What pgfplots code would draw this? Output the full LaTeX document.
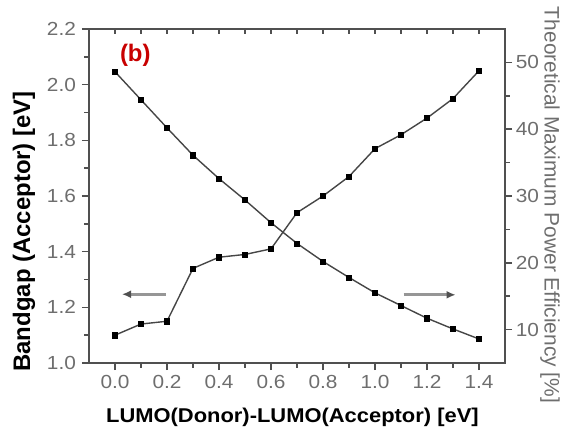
\documentclass[border=0pt]{standalone}
\usepackage{fontspec}
\setmainfont{Liberation Sans}
\usepackage{pgfplots}
\pgfplotsset{compat=1.18}
\usetikzlibrary{arrows.meta}

\definecolor{axgray}{RGB}{80,80,80}
\definecolor{tickgray}{RGB}{110,110,110}
\definecolor{curve}{RGB}{70,70,70}
\definecolor{arrgray}{RGB}{150,150,150}
\definecolor{bred}{RGB}{200,0,0}

\tikzset{tk/.style={draw=axgray, line width=1.4bp}}

\pgfplotsset{
  base/.style={
    scale only axis, width=416bp, height=334bp,
    at={(0,0)}, anchor=south west,
    xmin=-0.1, xmax=1.5,
    axis line style={axgray, line width=1.6bp},
    tick style={axgray, line width=1.5bp},
    major tick length=7bp, minor tick length=4.5bp,
    tick label style={font=\fontsize{19}{19}\selectfont, text=tickgray, xscale=1.1},
    xtick={0,0.2,0.4,0.6,0.8,1.0,1.2,1.4}, minor x tick num=1,
    /pgf/number format/assume math mode=true,
  },
  ser/.style={curve, line width=1.4bp, mark=square*, mark size=2.6bp,
    mark options={fill=black, draw=black, line width=0.5bp}},
}

\begin{document}
\begin{tikzpicture}
\useasboundingbox (-89bp,-65bp) rectangle (474bp,363bp);

% left axis: bandgap
\begin{axis}[base,
  xtick pos=bottom, ytick pos=left, tick align=outside,
  ymin=1.0, ymax=2.2,
  ytick={1.0,1.2,1.4,1.6,1.8,2.0,2.2}, minor y tick num=1,
  x tick label style={/pgf/number format/fixed, /pgf/number format/fixed zerofill, /pgf/number format/precision=1, yshift=-2bp},
  y tick label style={/pgf/number format/fixed, /pgf/number format/fixed zerofill, /pgf/number format/precision=1, xshift=-2bp},
  xlabel={LUMO(Donor)-LUMO(Acceptor) [eV]},
  xlabel style={at={(axis description cs:0.489,-0.163)}, anchor=center, xscale=1.1, font=\fontsize{20}{20}\selectfont\bfseries},
  ylabel={Bandgap (Acceptor) [eV]},
  ylabel style={at={(axis description cs:-0.156,0.394)}, anchor=center, rotate=0, font=\fontsize{24}{24}\selectfont\bfseries},
  clip=false,
]
\addplot[ser] coordinates {
  (0.0,1.10) (0.1,1.14) (0.2,1.15) (0.3,1.34) (0.4,1.38) (0.5,1.39) (0.6,1.41)
  (0.7,1.54) (0.8,1.60) (0.9,1.67) (1.0,1.77) (1.1,1.82) (1.2,1.88) (1.3,1.95) (1.4,2.05)
};
% tick marks (axis furniture)
\pgfplotsinvokeforeach{0,0.2,0.4,0.6,0.8,1.0,1.2,1.4}{
  \draw[tk] (axis cs:#1,1.0) -- ++(0bp,-7bp);
}
\pgfplotsinvokeforeach{0.1,0.3,0.5,0.7,0.9,1.1,1.3}{
  \draw[tk] (axis cs:#1,1.0) -- ++(0bp,-4.5bp);
}
\pgfplotsinvokeforeach{0,0.1,0.2,0.3,0.4,0.5,0.6,0.7,0.8,0.9,1.0,1.1,1.2,1.3,1.4}{
  \draw[tk] (axis cs:#1,2.2) -- ++(0bp,-5bp);
}
\pgfplotsinvokeforeach{1.0,1.2,1.4,1.6,1.8,2.0,2.2}{
  \draw[tk] (axis cs:-0.1,#1) -- ++(-7bp,0bp);
}
\pgfplotsinvokeforeach{1.1,1.3,1.5,1.7,1.9,2.1}{
  \draw[tk] (axis cs:-0.1,#1) -- ++(-4.5bp,0bp);
}
\draw[arrgray, line width=3bp, -{Latex[length=9bp, width=8bp, color=axgray]}]
  (axis cs:0.196,1.247) -- (axis cs:0.027,1.247);
\draw[arrgray, line width=3bp, -{Latex[length=9bp, width=8bp, color=axgray]}]
  (axis cs:1.110,1.245) -- (axis cs:1.310,1.245);
\node[text=bred, font=\fontsize{24}{24}\selectfont\bfseries] at (axis cs:0.078,2.107) {(b)};
\end{axis}

% right axis: efficiency
\begin{axis}[base,
  hide x axis, ytick pos=right, tick align=outside,
  ymin=5, ymax=55,
  ytick={10,20,30,40,50}, minor y tick num=1,
  yticklabel pos=right,
  ylabel={Theoretical Maximum Power Efficiency [\%]},
  ylabel style={at={(axis description cs:1.108,0.473)}, anchor=center, rotate=180, text=tickgray, font=\fontsize{21}{21}\selectfont},
  clip=false,
]
\addplot[ser] coordinates {
  (0.0,48.6) (0.1,44.4) (0.2,40.2) (0.3,36.1) (0.4,32.6) (0.5,29.4) (0.6,26.0)
  (0.7,22.9) (0.8,20.2) (0.9,17.8) (1.0,15.5) (1.1,13.6) (1.2,11.7) (1.3,10.1) (1.4,8.6)
};
\pgfplotsinvokeforeach{10,20,30,40,50}{
  \draw[tk] (axis cs:1.5,#1) -- ++(7bp,0bp);
}
\pgfplotsinvokeforeach{15,25,35,45}{
  \draw[tk] (axis cs:1.5,#1) -- ++(4.5bp,0bp);
}
\end{axis}

% top axis line
\begin{axis}[base,
  ymin=0, ymax=1, hide y axis,
  xtick pos=top, tick align=inside,
  xticklabels={}, major tick length=5bp, minor tick length=5bp,
]
\end{axis}
\end{tikzpicture}
\end{document}
